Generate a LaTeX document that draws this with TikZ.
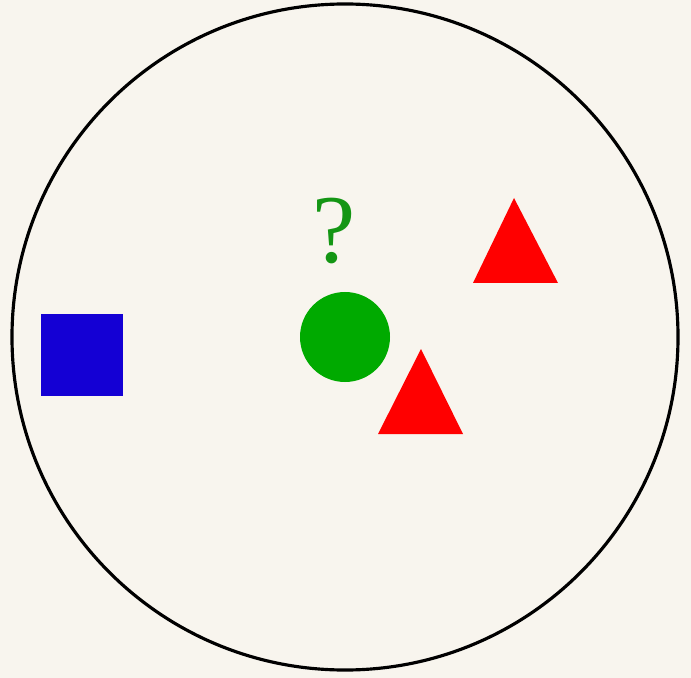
\documentclass[tikz,border=0pt]{standalone}
\usepackage{xcolor}
\usepackage{fontspec}
\usepackage{tikz}
\usetikzlibrary{shapes.geometric, positioning}
\newfontfamily\qfont{Liberation Serif}
\definecolor{mybg}{RGB}{248,245,238}
\definecolor{myblue}{RGB}{20,0,212}
\definecolor{mygreen}{RGB}{0,170,0}
\definecolor{myqgreen}{RGB}{20,150,20}
\definecolor{myred}{RGB}{255,0,0}
\tikzset{
  ring/.style={circle, draw=black, line width=2.7pt, minimum size=19.98cm, inner sep=0pt},
  bluebox/.style={rectangle, fill=myblue, minimum size=2.46cm, inner sep=0pt},
  greendot/.style={circle, fill=mygreen, minimum size=2.7cm, inner sep=0pt},
  qmark/.style={text=myqgreen, font=\qfont\fontsize{83}{83}\selectfont, inner sep=0pt},
  redtri/.style={fill=myred}
}

\begin{document}
\begin{tikzpicture}[x=0.03cm, y=-0.03cm]
  % background
  \fill[mybg] (0,0) rectangle (691,678);
  \useasboundingbox (0,0) rectangle (691,678);

  \node[ring] (world) at (345,337) {};
  \node[bluebox] (square) at (82,355) {};
  \node[greendot] (ball) at (345,337) {};
  \node[qmark, anchor=base] (ask) at (334,263) {?};

  % triangles
  \fill[redtri] (514,198) -- (558,283) -- (473,283) -- cycle;
  \fill[redtri] (421,349) -- (463,434) -- (378,434) -- cycle;
\end{tikzpicture}
\end{document}
